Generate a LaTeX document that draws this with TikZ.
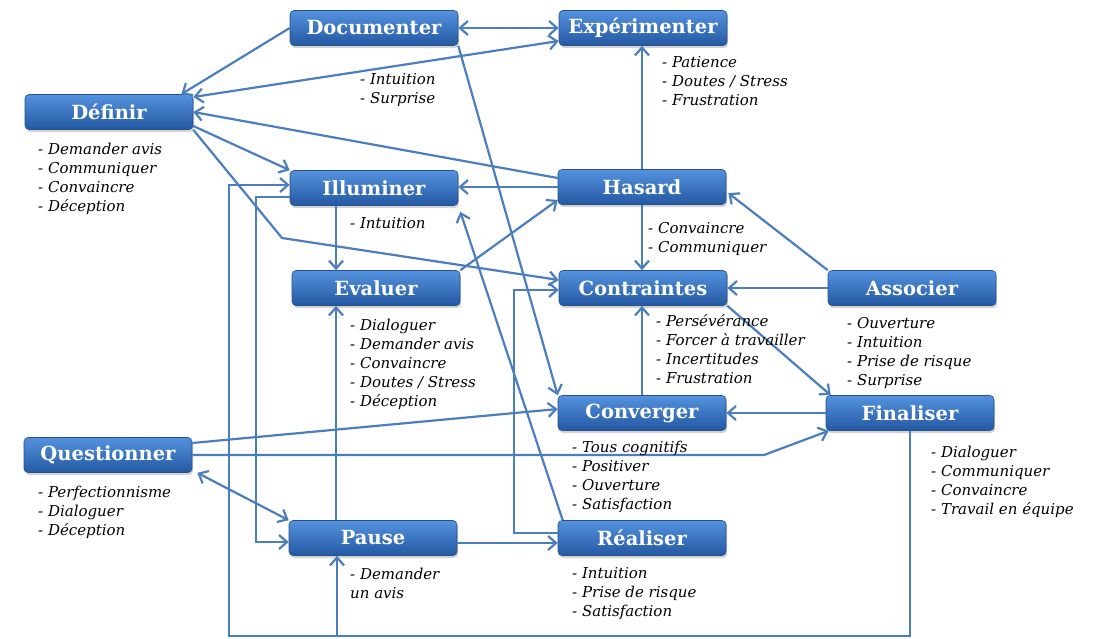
\documentclass[tikz,border=0pt]{standalone}
\usepackage{fontspec}
\setmainfont{DejaVu Serif}
\usetikzlibrary{arrows.meta,shadows}
\definecolor{boxtop}{RGB}{84,146,222}
\definecolor{boxbot}{RGB}{36,88,162}
\definecolor{boxline}{RGB}{40,80,140}
\definecolor{linkblue}{RGB}{74,126,190}
\tikzset{%
	phase/.style  = {draw=boxline, line width=0.6pt, rectangle, rounded corners=4pt, top color=boxtop, bottom color=boxbot, minimum width=168pt, minimum height=35pt, inner sep=0pt, text=white, font=\fontsize{19.5}{21}\selectfont\bfseries, text centered, drop shadow={opacity=0.35, shadow xshift=1pt, shadow yshift=-2.5pt}},
	remark/.style = {anchor=north west, align=left, inner sep=0pt, font=\fontsize{15}{19}\selectfont\itshape},
	arrow/.style  = {draw=linkblue, line width=2.2pt, >={Straight Barb[length=8pt,width=14pt]}},
}

\begin{document}
\begin{tikzpicture}[x=1pt, y=-1pt]
	\useasboundingbox (0,0) rectangle (1107,638);
	% phases
	\node[phase] (doc) at (374,28) {Documenter};
	\node[phase] (exp) at (643,28) {Expérimenter};
	\node[phase] (def) at (109,112) {Définir};
	\node[phase] (ill) at (374,188) {Illuminer};
	\node[phase] (has) at (642,187) {Hasard};
	\node[phase] (eva) at (376,288) {Evaluer};
	\node[phase] (con) at (643,288) {Contraintes};
	\node[phase] (ass) at (912,288) {Associer};
	\node[phase] (cvg) at (642,413) {Converger};
	\node[phase] (fin) at (910,413) {Finaliser};
	\node[phase] (que) at (108,455) {Questionner};
	\node[phase] (pau) at (373,538) {Pause};
	\node[phase] (rea) at (642,538) {Réaliser};
	\coordinate (loop) at (229,636);
	% links
	\draw[arrow,<->] (doc.east) -- (exp.west);
	\draw[arrow,->] (doc.west) -- ([xshift=-12pt]def.north east);
	\draw[arrow,<->] ([yshift=15pt]def.east) -- ([yshift=-13pt]exp.west);
	\draw[arrow,->] ([yshift=9pt]has.west) -- (def.east);
	\draw[arrow,->] ([yshift=-14pt]def.east) -- (ill.north west);
	\draw[arrow,->] (def.south east) -- (282,238) -- ([yshift=8pt]con.west);
	\draw[arrow,->] ([xshift=-38pt]ill.south) -- ([xshift=-38pt]ill.south |- eva.north);
	\draw[arrow,->] (has.west) -- (has.west -| ill.east);
	\draw[arrow,->] (eva.north east) -- ([yshift=-13pt]has.west);
	\draw[arrow,->] (has.north) -- (has.north |- exp.south);
	\draw[arrow,->] (has.south) -- (has.south |- con.north);
	\draw[arrow,->] (ass.north west) -- ([xshift=2pt,yshift=-6pt]has.east);
	\draw[arrow,->] (ass.west) -- (con.east);
	\draw[arrow,->] (con.south east) -- ([xshift=5pt]fin.north west);
	\draw[arrow,->] (cvg.north) -- (cvg.north |- con.south);
	\draw[arrow,->] (fin.west) -- (cvg.east);
	\draw[arrow,->] ([yshift=12pt]que.east) -- ([yshift=4pt]cvg.west);
	\draw[arrow,->] (que.east) -- (764,455) -- ([xshift=3pt]fin.south west);
	\draw[arrow,<->] ([xshift=5pt]que.south east) -- (pau.north west);
	\draw[arrow,->] ([xshift=-37pt]pau.north) -- ([xshift=-37pt]pau.north |- eva.south);
	\draw[arrow,->] ([yshift=-5pt]pau.east) -- ([yshift=-5pt]pau.east -| rea.west);
	\draw[arrow,->] (fin.south) -- (fin.south |- loop) -- (loop) |- ([yshift=3pt]ill.west);
	\draw[arrow,->] ([xshift=-36pt]pau.south |- loop) -- ([xshift=-36pt]pau.south);
	\draw[arrow,->] ([yshift=-9pt]ill.west) -- ++(-34,0) |- ([yshift=-4pt]pau.west);
	\draw[arrow,->] ([xshift=5pt]rea.north west) -- ([xshift=2pt,yshift=-6pt]ill.south east);
	\draw[arrow,->] (doc.south east) -- (cvg.north west);
	\draw[arrow,->] ([yshift=5pt]rea.west) -- ++(-44,0) |- ([yshift=-2pt]con.west);
	% remarks
	\node[remark] (defnote) at (38,143) {- Demander avis\\- Communiquer\\- Convaincre\\- Déception};
	\node[remark] (docnote) at (360,73) {- Intuition\\- Surprise};
	\node[remark] (expnote) at (662,56) {- Patience\\- Doutes / Stress\\- Frustration};
	\node[remark] (illnote) at (350,217) {- Intuition};
	\node[remark] (hasnote) at (648,222) {- Convaincre\\- Communiquer};
	\node[remark] (evanote) at (350,319) {- Dialoguer\\- Demander avis\\- Convaincre\\- Doutes / Stress\\- Déception};
	\node[remark] (connote) at (656,314) {- Persévérance\\- Forcer à travailler\\- Incertitudes\\- Frustration};
	\node[remark] (assnote) at (847,317) {- Ouverture\\- Intuition\\- Prise de risque\\- Surprise};
	\node[remark] (cvgnote) at (572,441) {- Tous cognitifs\\- Positiver\\- Ouverture\\- Satisfaction};
	\node[remark] (finnote) at (931,446) {- Dialoguer\\- Communiquer\\- Convaincre\\- Travail en équipe};
	\node[remark] (quenote) at (38,486) {- Perfectionnisme\\- Dialoguer\\- Déception};
	\node[remark] (reanote) at (572,567) {- Intuition\\- Prise de risque\\- Satisfaction};
	\node[remark] (paunote) at (350,568) {- Demander\\un avis};
\end{tikzpicture}
\end{document}
